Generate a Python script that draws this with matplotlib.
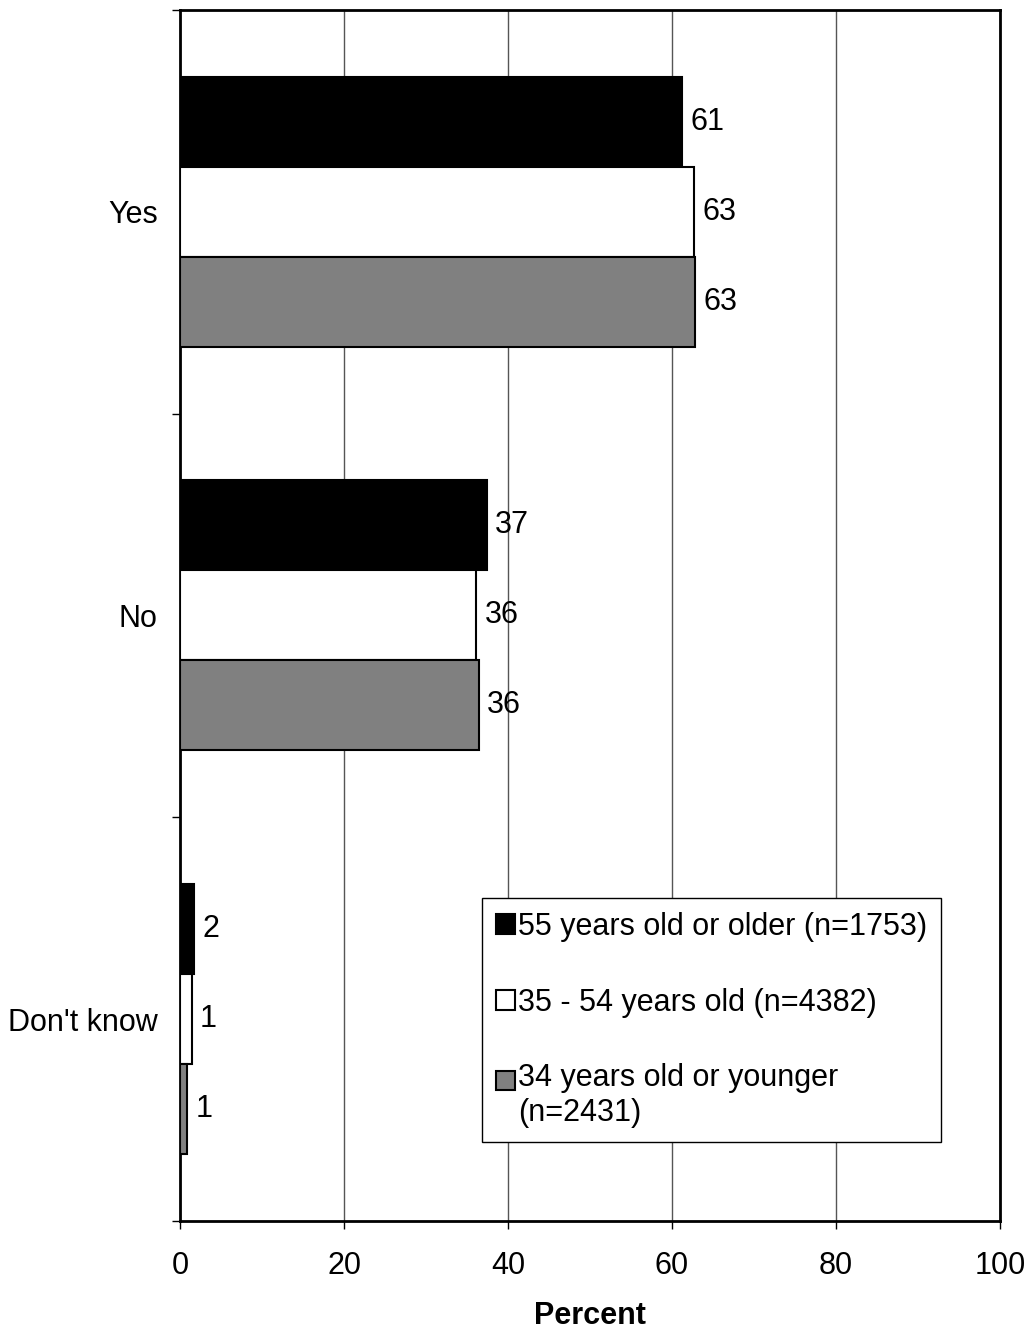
import matplotlib.pyplot as plt
from matplotlib.patches import Patch, Rectangle
from matplotlib.legend_handler import HandlerPatch
import numpy as np

# data
categories = ['Yes', 'No', "Don't know"]
series_names = ['55 years old or older (n=1753)',
                '35 - 54 years old (n=4382)',
                '34 years old or younger\n(n=2431)']
older = [61.2, 37.4, 1.7]
middle = [62.7, 36.1, 1.4]
younger = [62.8, 36.4, 0.9]
shown_labels = [['61', '37', '2'], ['63', '36', '1'], ['63', '36', '1']]

# style
colors = ['black', 'white', '#808080']
font_size = 22
plt.rcParams['font.family'] = ['Liberation Sans', 'DejaVu Sans']
plt.rcParams['font.size'] = font_size

fig = plt.figure(figsize=(10.33, 13.30), dpi=100)
ax = fig.add_axes([0.1743, 0.082, 0.7938, 0.9105])

bar_h = 0.223
y = np.arange(len(categories))
offsets = [-bar_h, 0, bar_h]
all_values = [older, middle, younger]

for k, vals in enumerate(all_values):
    bars = ax.barh(y + offsets[k], vals, height=bar_h, color=colors[k],
                   edgecolor='black', linewidth=1.5, zorder=3)
    for b, txt in zip(bars, shown_labels[k]):
        ax.annotate(txt, (b.get_width(), b.get_y() + b.get_height() / 2),
                    xytext=(6, 0), textcoords='offset points',
                    ha='left', va='center', fontsize=font_size, zorder=4)

ax.set_xlim(0, 100)
ax.set_ylim(2.5, -0.5)
ax.set_xticks(range(0, 101, 20))
ax.tick_params(axis='x', direction='out', length=6, width=1, pad=16, labelsize=font_size)

# category boundaries carry the ticks, labels sit between them
ax.set_yticks([-0.5, 0.5, 1.5, 2.5])
ax.set_yticklabels([])
ax.tick_params(axis='y', which='major', direction='out', length=6, width=1)
ax.set_yticks(y, minor=True)
ax.set_yticklabels(categories, minor=True)
ax.tick_params(axis='y', which='minor', length=0, pad=16, labelsize=font_size)

ax.grid(axis='x', color='#555555', linewidth=1, zorder=0)
for s in ax.spines.values():
    s.set_linewidth(2)
    s.set_color('black')

ax.set_xlabel('Percent', fontsize=font_size, fontweight='bold', labelpad=14)


# two-line entry: keep the square next to the first line
def raised_square(legend, orig_handle, xdescent, ydescent, width, height, fontsize):
    return Rectangle((-xdescent, -ydescent + 11.5), width, height)


handles = [Patch(facecolor=c, edgecolor='black', linewidth=1.5) for c in colors]
leg = ax.legend(handles, series_names, loc='upper left',
                bbox_to_anchor=(0.368, 0.2667), borderaxespad=0,
                fancybox=False, framealpha=1, edgecolor='black',
                handlelength=0.62, handleheight=0.62, handletextpad=0.12,
                labelspacing=1.5, borderpad=0.45, fontsize=font_size,
                handler_map={handles[2]: HandlerPatch(patch_func=raised_square)})
leg.get_frame().set_linewidth(1)
leg.set_zorder(5)

plt.savefig('out.png', dpi=100)
plt.close()
